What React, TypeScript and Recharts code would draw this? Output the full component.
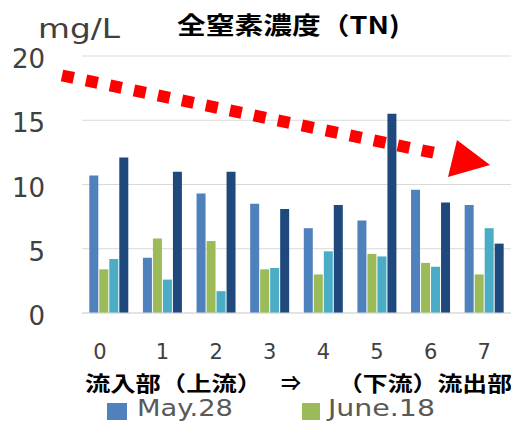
import { BarChart, Bar, XAxis, YAxis, CartesianGrid, Legend } from "recharts";

const sites = ["0", "1", "2", "3", "4", "5", "6", "7"];
const may28 = [10.7, 4.3, 9.3, 8.5, 6.6, 7.2, 9.6, 8.4];
const june18 = [3.4, 5.8, 5.6, 3.4, 3.0, 4.6, 3.9, 3.0];
const third = [4.2, 2.6, 1.7, 3.5, 4.8, 4.4, 3.6, 6.6];
const fourth = [12.1, 11.0, 11.0, 8.1, 8.4, 15.5, 8.6, 5.4];
const yTicks = [0, 5, 10, 15, 20];

const data = sites.map((s, i) => ({
  site: s,
  may28: may28[i],
  june18: june18[i],
  third: third[i],
  fourth: fourth[i],
}));

const font = "'DejaVu Sans', sans-serif";
const jp = "'Noto Sans CJK JP', sans-serif";

const YTick = (props: any) => {
  const { y, payload } = props;
  return (
    <text x={45} y={y + 3} textAnchor="end" dominantBaseline="central"
      fontFamily={font} fontSize={26} fill="#404040">
      {payload.value}
    </text>
  );
};

const XTick = (props: any) => {
  const { x, payload, index } = props;
  const dx = index === 0 ? -9 : 0;
  return (
    <text x={x + dx} y={352} textAnchor="middle" dominantBaseline="central"
      fontFamily={font} fontSize={21} fill="#404040">
      {payload.value}
    </text>
  );
};

const LegendBox = () => (
  <svg width={511} height={30} style={{ display: "block" }}>
    <rect x={107} y={8} width={20} height={17} fill="#4F81BD" />
    <text x={137} y={21} fontFamily={font} fontSize={23} fill="#595959"
      textLength={96} lengthAdjust="spacingAndGlyphs">May.28</text>
    <rect x={302} y={8} width={18} height={17} fill="#9BBB59" />
    <text x={328} y={21} fontFamily={font} fontSize={23} fill="#595959"
      textLength={107} lengthAdjust="spacingAndGlyphs">June.18</text>
  </svg>
);

export default function App() {
  return (
    <div style={{ position: "absolute", left: 0, top: 0, width: 511, height: 425, background: "#fff", overflow: "hidden" }}>
      <BarChart width={511} height={425} data={data}
        margin={{ top: 56, right: 0, left: 0, bottom: 0 }}
        barCategoryGap="13.6%" barGap={1}>
        <CartesianGrid vertical={false} stroke="#d9d9d9" />
        <XAxis dataKey="site" height={82} tick={<XTick />} tickLine={false}
          axisLine={{ stroke: "#d9d9d9" }} interval={0} />
        <YAxis width={82} domain={[0, 20]} ticks={yTicks} tick={<YTick />}
          tickLine={false} axisLine={false} />
        <Legend content={<LegendBox />} height={30}
          wrapperStyle={{ position: "absolute", left: 0, top: 395, width: 511, height: 30 }} />
        <Bar dataKey="may28" name="May.28" fill="#4F81BD" isAnimationActive={false} />
        <Bar dataKey="june18" name="June.18" fill="#9BBB59" isAnimationActive={false} />
        <Bar dataKey="third" fill="#4BACC6" isAnimationActive={false} />
        <Bar dataKey="fourth" fill="#1F497D" isAnimationActive={false} />
      </BarChart>
      <svg width={511} height={425} style={{ position: "absolute", left: 0, top: 0, pointerEvents: "none" }}>
        <text x={38} y={38} fontFamily={font} fontSize={27} fill="#404040"
          textLength={82} lengthAdjust="spacingAndGlyphs">mg/L</text>
        <text x={177} y={34} fontFamily={jp} fontWeight="bold" fontSize={24} fill="#000"
          textLength={223} lengthAdjust="spacingAndGlyphs">全窒素濃度（TN)</text>
        <line x1={62} y1={75.5} x2={442} y2={154.5} stroke="#FF0000"
          strokeWidth={12} strokeDasharray="12 12.5" />
        <polygon points="457,140 490,165 448,177" fill="#FF0000" />
        <text x={85} y={391} fontFamily={jp} fontWeight="bold" fontSize={21} fill="#000"
          textLength={177} lengthAdjust="spacingAndGlyphs">流入部（上流）</text>
        <text x={291} y={391} textAnchor="middle" fontFamily={jp} fontWeight="bold" fontSize={20} fill="#000">⇒</text>
        <text x={338} y={391} fontFamily={jp} fontWeight="bold" fontSize={21} fill="#000"
          textLength={174} lengthAdjust="spacingAndGlyphs">（下流）流出部</text>
      </svg>
    </div>
  );
}
